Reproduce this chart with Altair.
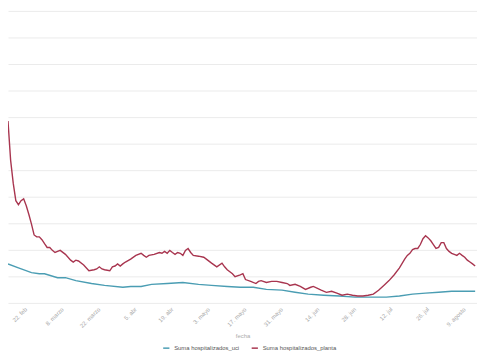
import altair as alt
import pandas as pd

# ---- data ----
planta_dates = [
    "2021-02-16", "2021-02-17", "2021-02-18", "2021-02-19", "2021-02-20", "2021-02-21",
    "2021-02-22", "2021-02-23", "2021-02-24", "2021-02-25", "2021-02-26", "2021-02-27",
    "2021-02-28", "2021-03-01", "2021-03-02", "2021-03-03", "2021-03-04", "2021-03-05",
    "2021-03-06", "2021-03-07", "2021-03-08", "2021-03-10", "2021-03-12", "2021-03-13",
    "2021-03-14", "2021-03-15", "2021-03-17", "2021-03-19", "2021-03-21", "2021-03-22",
    "2021-03-23", "2021-03-24", "2021-03-25", "2021-03-27", "2021-03-28", "2021-03-29",
    "2021-03-30", "2021-03-31", "2021-04-01", "2021-04-02", "2021-04-04", "2021-04-06",
    "2021-04-08", "2021-04-09", "2021-04-10", "2021-04-11", "2021-04-13", "2021-04-15",
    "2021-04-16", "2021-04-17", "2021-04-18", "2021-04-19", "2021-04-20", "2021-04-21",
    "2021-04-22", "2021-04-23", "2021-04-24", "2021-04-25", "2021-04-26", "2021-04-27",
    "2021-04-28", "2021-04-30", "2021-05-02", "2021-05-03", "2021-05-05", "2021-05-07",
    "2021-05-09", "2021-05-10", "2021-05-11", "2021-05-13", "2021-05-14", "2021-05-16",
    "2021-05-17", "2021-05-18", "2021-05-20", "2021-05-22", "2021-05-23", "2021-05-24",
    "2021-05-26", "2021-05-28", "2021-05-30", "2021-06-01", "2021-06-03", "2021-06-04",
    "2021-06-06", "2021-06-08", "2021-06-10", "2021-06-12", "2021-06-13", "2021-06-16",
    "2021-06-18", "2021-06-20", "2021-06-22", "2021-06-24", "2021-06-26", "2021-06-28",
    "2021-06-30", "2021-07-02", "2021-07-04", "2021-07-06", "2021-07-08", "2021-07-10",
    "2021-07-12", "2021-07-14", "2021-07-16", "2021-07-18", "2021-07-19", "2021-07-20",
    "2021-07-21", "2021-07-22", "2021-07-23", "2021-07-24", "2021-07-25", "2021-07-26",
    "2021-07-27", "2021-07-28", "2021-07-29", "2021-07-30", "2021-07-31", "2021-08-01",
    "2021-08-02", "2021-08-03", "2021-08-04", "2021-08-05", "2021-08-06", "2021-08-07",
    "2021-08-08", "2021-08-09", "2021-08-10", "2021-08-11", "2021-08-12", "2021-08-13",
    "2021-08-14",
]
planta_values = [
    685, 538, 451, 385, 370, 385,
    392, 366, 333, 297, 256, 249,
    249, 238, 223, 209, 209, 198,
    190, 194, 198, 183, 161, 154,
    161, 158, 143, 121, 125, 128,
    136, 128, 125, 121, 136, 139,
    147, 139, 147, 154, 165, 179,
    187, 179, 172, 179, 183, 190,
    187, 194, 187, 198, 190, 183,
    190, 187, 179, 198, 205, 190,
    179, 176, 172, 165, 150, 136,
    150, 136, 125, 110, 99, 106,
    110, 88, 81, 73, 81, 84,
    77, 81, 81, 77, 73, 66,
    70, 62, 51, 59, 62, 48,
    40, 44, 37, 29, 33, 29,
    26, 26, 29, 33, 48, 66,
    84, 106, 132, 165, 179, 187,
    201, 205, 205, 220, 242, 253,
    245, 234, 220, 205, 209, 227,
    227, 205, 194, 187, 183, 179,
    187, 179, 172, 161, 154, 147,
    139,
]

uci_dates = [
    "2021-02-16", "2021-02-20", "2021-02-25", "2021-02-28", "2021-03-02", "2021-03-07",
    "2021-03-10", "2021-03-14", "2021-03-20", "2021-03-25", "2021-04-01", "2021-04-04",
    "2021-04-08", "2021-04-12", "2021-04-18", "2021-04-24", "2021-04-30", "2021-05-05",
    "2021-05-11", "2021-05-16", "2021-05-21", "2021-05-26", "2021-06-01", "2021-06-06",
    "2021-06-11", "2021-06-17", "2021-06-23", "2021-06-29", "2021-07-05", "2021-07-11",
    "2021-07-16", "2021-07-21", "2021-07-26", "2021-07-31", "2021-08-05", "2021-08-10",
    "2021-08-14",
]
uci_values = [
    147, 132, 114, 110, 110, 95,
    95, 84, 73, 66, 59, 62,
    62, 70, 73, 77, 70, 66,
    62, 59, 59, 51, 48, 40,
    33, 29, 26, 22, 22, 22,
    26, 33, 37, 40, 44, 44,
    44,
]

series_names = ["Suma hospitalizados_uci", "Suma hospitalizados_planta"]
series_colors = ["#4a9db3", "#a8354f"]

tick_labels = ["22. feb", "8. marzo", "22. marzo", "5. abr", "19. abr", "3. mayo",
               "17. mayo", "31. mayo", "14. jun", "28. jun", "12. jul", "26. jul",
               "9. agosto"]
tick_dates = [(2021, 2, 22), (2021, 3, 8), (2021, 3, 22), (2021, 4, 5), (2021, 4, 19),
              (2021, 5, 3), (2021, 5, 17), (2021, 5, 31), (2021, 6, 14), (2021, 6, 28),
              (2021, 7, 12), (2021, 7, 26), (2021, 8, 9)]

# ---- table ----
df = pd.concat([
    pd.DataFrame({"fecha": uci_dates, "valor": uci_values, "serie": series_names[0]}),
    pd.DataFrame({"fecha": planta_dates, "valor": planta_values, "serie": series_names[1]}),
])

label_array = "[" + ",".join("'" + t + "'" for t in tick_labels) + "]"
label_expr = label_array + "[round((datum.value - utc(2021,1,22)) / 1209600000)]"

x_values = [alt.DateTime(year=y, month=m, date=d, utc=True) for (y, m, d) in tick_dates]

font = "Liberation Sans"

chart = alt.Chart(df).mark_line(strokeWidth=1.4, clip=True).encode(
    x=alt.X(
        "fecha:T",
        scale=alt.Scale(
            type="utc",
            domain=[alt.DateTime(year=2021, month=2, date=16, utc=True),
                    alt.DateTime(year=2021, month=8, date=14, hours=17, utc=True)],
        ),
        axis=alt.Axis(
            values=x_values,
            labelExpr=label_expr,
            labelAngle=-45,
            labelFontSize=6,
            labelColor="#aaaaaa",
            labelFont=font,
            labelPadding=3,
            ticks=False,
            domain=False,
            grid=False,
            title="fecha",
            titleFontSize=6,
            titleFontWeight="normal",
            titleColor="#aaaaaa",
            titleFont=font,
            titlePadding=4,
            labelOverlap=False,
        ),
    ),
    y=alt.Y(
        "valor:Q",
        scale=alt.Scale(domain=[0, 1100], nice=False),
        axis=alt.Axis(
            values=list(range(0, 1101, 100)),
            labels=False,
            ticks=False,
            domain=False,
            title=None,
            grid=True,
            gridColor="#ebebeb",
            gridWidth=1,
        ),
    ),
    color=alt.Color(
        "serie:N",
        scale=alt.Scale(domain=series_names, range=series_colors),
        legend=alt.Legend(
            orient="none",
            legendX=157,
            legendY=339,
            direction="horizontal",
            title=None,
            symbolType="stroke",
            symbolSize=40,
            symbolStrokeWidth=1.5,
            labelFontSize=6,
            labelColor="#555555",
            labelFont=font,
            columnPadding=8,
        ),
    ),
).properties(
    width=477,
    height=297,
).configure(
    padding=0,
).configure_view(
    stroke=None,
)

chart.save("out.html", embed_options={"renderer": "svg", "actions": False})
